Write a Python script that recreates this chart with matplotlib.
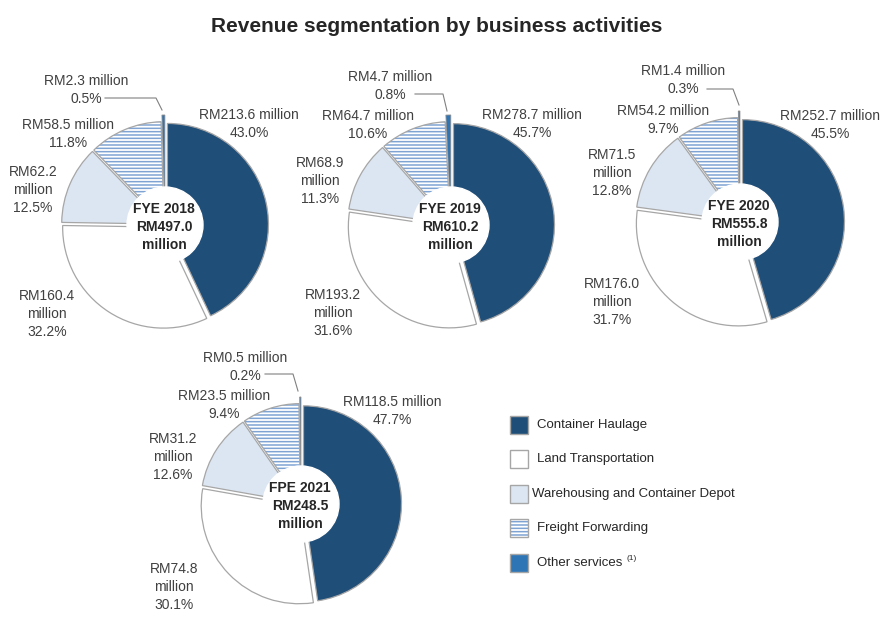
import matplotlib
matplotlib.use("Agg")
import matplotlib.pyplot as plt
from matplotlib.patches import Wedge, Circle, Rectangle

plt.rcParams['font.family'] = ['Liberation Sans', 'DejaVu Sans']
plt.rcParams['hatch.linewidth'] = 1.1

# ---------------- data ----------------
categories = ['Container Haulage', 'Land Transportation',
              'Warehousing and Container Depot', 'Freight Forwarding', 'Other services']
periods = ['FYE 2018', 'FYE 2019', 'FYE 2020', 'FPE 2021']
totals = [497.0, 610.2, 555.8, 248.5]

values_2018 = [213.6, 160.4, 62.2, 58.5, 2.3]
values_2019 = [278.7, 193.2, 68.9, 64.7, 4.7]
values_2020 = [252.7, 176.0, 71.5, 54.2, 1.4]
values_2021 = [118.5, 74.8, 31.2, 23.5, 0.5]

pct_2018 = [43.0, 32.2, 12.5, 11.8, 0.5]
pct_2019 = [45.7, 31.6, 11.3, 10.6, 0.8]
pct_2020 = [45.5, 31.7, 12.8, 9.7, 0.3]
pct_2021 = [47.7, 30.1, 12.6, 9.4, 0.2]

values = [values_2018, values_2019, values_2020, values_2021]
pcts = [pct_2018, pct_2019, pct_2020, pct_2021]

# ---------------- style / layout ----------------
colors = ['#1f4e79', '#ffffff', '#dce6f2', '#ffffff', '#2e75b6']
edge = '#a6a6a6'
hatch_col = '#7fa3d3'
txt = '#404040'

W, H = 895, 639
centers = [(165, 225), (451, 225), (740, 222), (301, 504)]
radii = [101, 101, 102, 98]
inner_r = 38
explodes = [2.5, 2.5, 2.5, 2.5, 9]

# label anchor positions (pixel coords) per chart, per slice
label_pos = [
    [(249, 124), (47, 314), (33, 190), (68, 134), (86, 90)],
    [(532, 124), (333, 313), (320, 181), (368, 125), (390, 86)],
    [(830, 125), (612, 302), (612, 173), (663, 120), (683, 80)],
    [(392, 411), (174, 587), (173, 457), (224, 405), (245, 367)],
]
# leader lines for "Other services" labels: (x_start, y, x_corner, x_end, y_end)
leaders = [
    (105, 98, 156, 162, 110),
    (415, 94, 443, 447, 111),
    (707, 89, 733, 739, 105),
    (265, 374, 293, 298, 391),
]

fig = plt.figure(figsize=(W / 100, H / 100), dpi=100)
ax = fig.add_axes([0, 0, 1, 1])

for i in range(4):
    cx, cy = centers[i]
    r = radii[i]
    wedges, _ = ax.pie(values[i], colors=colors, startangle=-90, counterclock=True,
                       center=(cx, cy), radius=r, explode=explodes,
                       wedgeprops=dict(edgecolor=edge, linewidth=0.9))
    # freight forwarding: horizontal stripes
    fw = wedges[3]
    fw.set_hatch('-----')
    fw.set_edgecolor(hatch_col)
    fw.set_linewidth(0)
    ax.add_patch(Wedge(fw.center, fw.r, fw.theta1, fw.theta2, fill=False,
                       edgecolor=edge, linewidth=0.9, zorder=fw.get_zorder() + 0.1))
    # other services thin wedge outline
    wedges[4].set_edgecolor('#8c8c8c')
    wedges[4].set_linewidth(0.6)
    # center hole
    ax.add_patch(Circle((cx, cy), inner_r, facecolor='white', edgecolor='white',
                        linewidth=1, zorder=5))
    ax.text(cx - 1, cy + 2, f"{periods[i]}\nRM{totals[i]:.1f}\nmillion",
            ha='center', va='center', fontsize=10, fontweight='bold',
            color='#262626', zorder=6, linespacing=1.4)
    # labels
    for k in range(5):
        v, p = values[i][k], pcts[i][k]
        if k in (1, 2):
            s = f"RM{v:.1f}\nmillion\n{p:.1f}%"
        else:
            s = f"RM{v:.1f} million\n{p:.1f}%"
        x, y = label_pos[i][k]
        ax.text(x, y, s, ha='center', va='center', fontsize=10, color=txt,
                linespacing=1.33, zorder=6)
    xs, ly, xc, xe, ye = leaders[i]
    ax.plot([xs, xc, xe], [ly, ly, ye], color='#808080', linewidth=0.8, zorder=6)

# legend
leg_y = [425, 459, 494, 528, 563]
for k, cat in enumerate(categories):
    y = leg_y[k]
    if k == 3:
        ax.add_patch(Rectangle((510, y - 9), 18, 18, facecolor='white',
                               edgecolor=hatch_col, hatch='-----', linewidth=0))
        ax.add_patch(Rectangle((510, y - 9), 18, 18, fill=False,
                               edgecolor=edge, linewidth=1.0))
    else:
        ax.add_patch(Rectangle((510, y - 9), 18, 18, facecolor=colors[k],
                               edgecolor=edge, linewidth=1.0))
    tx = 532 if k == 2 else 537
    ax.text(tx, y, cat, ha='left', va='center', fontsize=9.5, color='#262626')
    if k == 4:
        ax.text(627, y - 5, '(1)', ha='left', va='center', fontsize=6, color='#262626')

fig.text(437 / W, 1 - 26 / H, 'Revenue segmentation by business activities',
         ha='center', va='center', fontsize=15, fontweight='bold', color='#262626')

ax.set_xlim(0, W)
ax.set_ylim(H, 0)
ax.set_aspect('equal')
ax.axis('off')

fig.savefig('out.png', dpi=100, facecolor='white')
